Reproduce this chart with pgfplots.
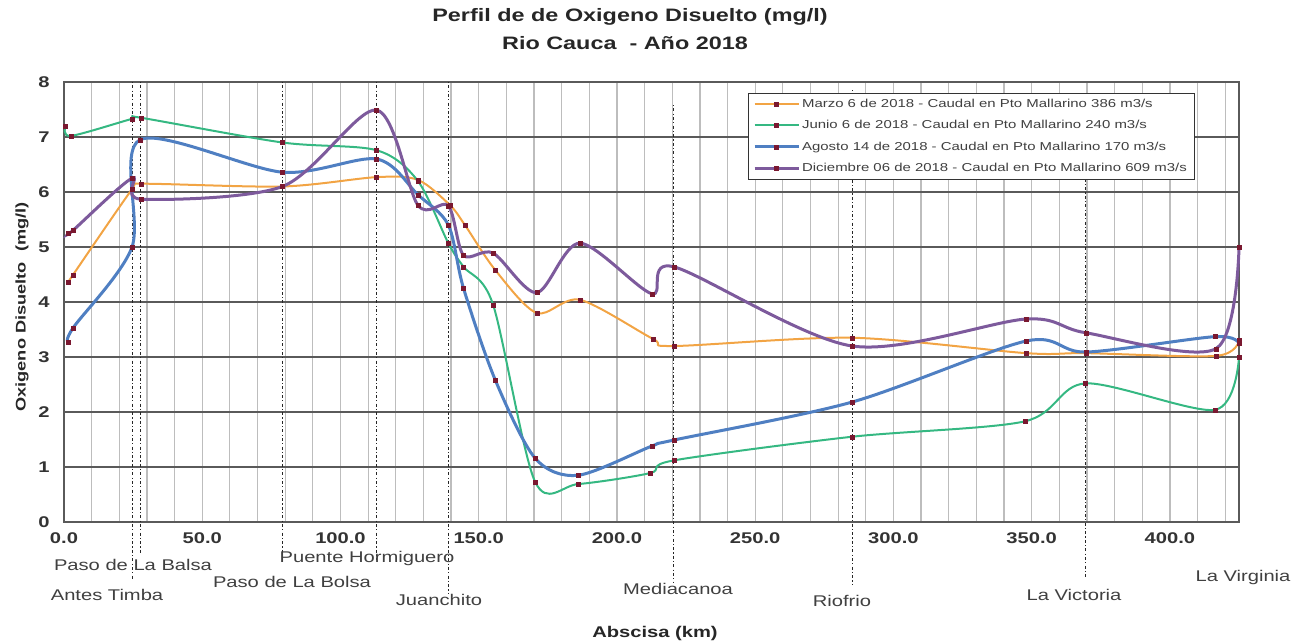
\documentclass[border=0pt]{standalone}
\usepackage{fontspec}
\setmainfont{Liberation Sans}[FakeStretch=1.3]
\usepackage{pgfplots}
\pgfplotsset{compat=1.18}
\definecolor{cmar}{HTML}{F2A444}
\definecolor{cjun}{HTML}{35B882}
\definecolor{cago}{HTML}{4F7FC2}
\definecolor{cdic}{HTML}{7D5A9C}
\definecolor{mk}{HTML}{7A1830}
\definecolor{gridd}{HTML}{5A5A5A}
\definecolor{gridl}{HTML}{BDBDBD}
\newcommand{\fsA}{\fontsize{18bp}{21bp}\selectfont}
\newcommand{\fsB}{\fontsize{15.5bp}{18bp}\selectfont}
\newcommand{\fsY}{\fontsize{14bp}{17bp}\selectfont}
\newcommand{\fsC}{\fontsize{11.5bp}{13bp}\selectfont}
\tikzset{station/.style={black!85, line width=0.9bp, dash pattern=on 1.2bp off 2.2bp on 3bp off 2.2bp}}
\begin{document}
\begin{tikzpicture}[x=1bp,y=1bp]
\path[use as bounding box] (0,0) rectangle (1309,642);
\begin{axis}[
  at={(64bp,120bp)}, anchor=south west, scale only axis,
  width=1175bp, height=440bp,
  xmin=0, xmax=425, ymin=0, ymax=8,
  clip=false,
  /pgf/number format/assume math mode=true,
  xtick={0,50,...,400}, minor xtick={10,20,...,420},
  ytick={0,1,...,8},
  xmajorgrids, xminorgrids, ymajorgrids,
  major x grid style={gridl, line width=1.2bp},
  minor x grid style={gridl, line width=1.2bp},
  major y grid style={gridd, line width=1.6bp},
  axis line style={gridd, line width=1.6bp},
  tick style={draw=none},
  xticklabel style={font=\fsB\bfseries, text=black!80, yshift=-7bp, /pgf/number format/.cd, fixed, fixed zerofill, precision=1},
  yticklabel style={font=\fsB\bfseries, text=black!80, xshift=-11bp},
  legend cell align=left,
  legend style={at={(0.582,0.975)}, anchor=north west, draw=black!80, fill=white, font=\fsC, text=black!75, row sep=7.5bp, inner xsep=5bp, inner ysep=4bp},
  legend image code/.code={\draw[mark repeat=2, mark phase=2] plot coordinates {(0bp,0bp) (22bp,0bp) (44bp,0bp)};},
  every axis plot/.append style={smooth, tension=0.5, mark=square*, mark size=2bp, mark options={fill=mk, draw=mk, solid, line width=0.4bp}},
]
% station dotted lines
\draw[station] (axis cs:24.6,8) -- (axis cs:24.6,-1.05);
\draw[station] (axis cs:27.8,8) -- (axis cs:27.8,-0.56);
\draw[station] (axis cs:79,8) -- (axis cs:79,-0.7);
\draw[station] (axis cs:113,8) -- (axis cs:113,-0.7);
\draw[station] (axis cs:139,8) -- (axis cs:139,-1.3);
\draw[station] (axis cs:220.6,7.58) -- (axis cs:220.6,-1.1);
\draw[station] (axis cs:285,7.85) -- (axis cs:285,-1.15);
\draw[station] (axis cs:369.6,7.4) -- (axis cs:369.6,-1.0);

\addplot[cmar, line width=2bp] coordinates {
(1.5,4.36) (3.2,4.49) (24.6,6.05) (27.8,6.15) (79,6.1) (113,6.27) (128,6.22) (139.6,5.76) (145,5.4) (156,4.58) (171,3.8) (186.6,4.04) (213,3.33) (220.6,3.2) (285,3.35) (348,3.07) (369.6,3.07) (416.6,3.02) (425,3.3)};
\addlegendentry{Marzo 6 de 2018 - Caudal en Pto Mallarino 386 m3/s}

\addplot[cjun, line width=2bp] coordinates {
(0.5,7.2) (2.5,7.02) (24.6,7.33) (27.8,7.35) (79,6.9) (113,6.76) (128,6.2) (139,5.07) (144.5,4.64) (155.2,3.95) (170.4,0.73) (186,0.69) (212,0.89) (220.6,1.12) (285,1.55) (347.5,1.83) (369.5,2.52) (416.3,2.04) (425,3.0)};
\addlegendentry{Junio 6 de 2018 - Caudal en Pto Mallarino 240 m3/s}

\addplot[cago, line width=3bp] coordinates {
(1.5,3.27) (3.3,3.53) (24.6,5.0) (27.5,6.95) (79,6.36) (113,6.6) (128,5.95) (139,5.4) (144.5,4.25) (156,2.58) (170.4,1.16) (186,0.85) (212.6,1.38) (220.6,1.49) (285,2.18) (348,3.29) (369.6,3.09) (416.3,3.37) (425,3.25)};
\addlegendentry{Agosto 14 de 2018 - Caudal en Pto Mallarino 170 m3/s}

\addplot[cdic, line width=3bp] coordinates {
(1.5,5.25) (3.2,5.3) (24.6,6.25) (27.8,5.87) (79,6.1) (113,7.49) (128,5.76) (139,5.75) (144.5,4.85) (155.2,4.89) (171,4.17) (186.6,5.07) (212.6,4.15) (220.6,4.64) (285,3.2) (348,3.69) (369.6,3.44) (416.6,3.15) (425,5.0)};
\addlegendentry{Diciembre 06 de 2018 - Caudal en Pto Mallarino 609 m3/s}
\end{axis}
% titles
\node[font=\fsA\bfseries, text=black!85] at (630,625) {Perfil de de Oxigeno Disuelto (mg/l)};
\node[font=\fsA\bfseries, text=black!85] at (625,599) {Rio Cauca\ \ - Año 2018};
\node[font=\fsY\bfseries, text=black!85, rotate=90] at (22,335) {Oxigeno Disuelto\ \ (mg/l)};
\node[font=\fsB\bfseries, text=black!85] at (655,9) {Abscisa (km)};
% station labels
\begin{scope}[every node/.style={font=\fsB, text=black!75}]
\node at (133,77) {Paso de La Balsa};
\node at (107,47) {Antes Timba};
\node at (292,60) {Paso de La Bolsa};
\node at (367,84) {Puente Hormiguero};
\node at (439,42) {Juanchito};
\node at (678,53) {Mediacanoa};
\node at (842,41) {Riofrio};
\node at (1074,47) {La Victoria};
\node at (1243,65) {La Virginia};
\end{scope}
\end{tikzpicture}
\end{document}
